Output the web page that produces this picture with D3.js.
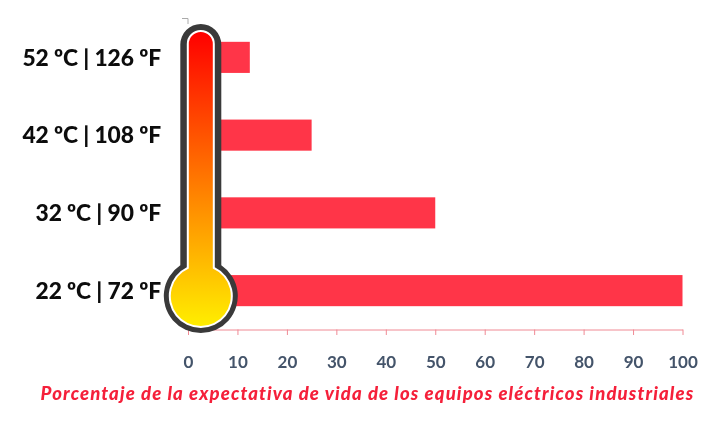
<!DOCTYPE html>
<html><head><meta charset="utf-8">
<script src="https://cdn.jsdelivr.net/npm/d3@7/dist/d3.min.js"></script>
<style>html,body{margin:0;padding:0;background:#fff}svg{display:block;filter:blur(0.35px)}</style>
</head><body><svg id="c" width="725" height="423"></svg>
<script>
const categories = ["52 ºC | 126 ºF","42 ºC | 108 ºF","32 ºC | 90 ºF","22 ºC | 72 ºF"];
const values = [12.5,25,50,100];
const xTicks = [0,10,20,30,40,50,60,70,80,90,100];
const axisTitle = "Porcentaje de la expectativa de vida de los equipos eléctricos industriales";

const svg = d3.select("#c");
const x = d3.scaleLinear().domain([0,100]).range([188,682.5]);
const y = d3.scaleBand().domain(categories).range([18.5,329.5]).paddingInner(0.6).paddingOuter(0.3);

svg.selectAll("rect.bar").data(values).join("rect").attr("class","bar")
  .attr("x",x(0)).attr("y",(d,i)=>y(categories[i]))
  .attr("width",d=>x(d)-x(0)).attr("height",y.bandwidth())
  .attr("fill","#ff3548");

const xAxis = d3.axisBottom(x).tickValues(xTicks).tickSize(5.5).tickSizeOuter(0).tickPadding(21);
const gx = svg.append("g").attr("transform","translate(0,329.5)").call(xAxis);
gx.select(".domain").attr("stroke","#f08a94");
gx.selectAll(".tick line").attr("stroke","#f08a94");
gx.selectAll("text").attr("fill","#44546a").attr("font-family","Lato").attr("font-weight",700).attr("font-size",17);

const yAxis = d3.axisLeft(y).tickSize(0).tickPadding(27);
const gy = svg.append("g").attr("transform","translate(188,0)").call(yAxis);
gy.select(".domain").remove();
gy.selectAll("text").attr("fill","#0c0c0c").attr("font-family","Lato").attr("font-weight",900).attr("font-size",22.8).attr("letter-spacing",-0.1).attr("dy","0.36em");
svg.append("path").attr("d","M182,18.5H188V24").attr("fill","none").attr("stroke","#aaa");

svg.append("text").attr("x",367.5).attr("y",400).attr("text-anchor","middle")
  .attr("fill","#f5203a").attr("font-family","Lato").attr("font-weight",900).attr("font-style","italic")
  .attr("font-size",18.5).attr("letter-spacing",1.13).text(axisTitle);

// thermometer
const cx=200.8, cy=296;
function shape(w,R,top){
  const ny=cy-Math.sqrt(R*R-w*w);
  return `M${cx-w},${top+w}A${w},${w} 0 0 1 ${cx+w},${top+w}L${cx+w},${ny}A${R},${R} 0 1 1 ${cx-w},${ny}Z`;
}
const grad=svg.append("defs").append("linearGradient").attr("id","g")
  .attr("gradientUnits","userSpaceOnUse").attr("x1",0).attr("x2",0).attr("y1",32).attr("y2",326);
grad.append("stop").attr("offset",0).attr("stop-color","#ff0000");
grad.append("stop").attr("offset",1).attr("stop-color","#ffee00");
svg.append("path").attr("d",shape(20.5,37,24)).attr("fill","#3a3a3a");
svg.append("path").attr("d",shape(14,32,30)).attr("fill","#fff");
svg.append("path").attr("d",shape(12,30,32)).attr("fill","url(#g)");
</script></body></html>
